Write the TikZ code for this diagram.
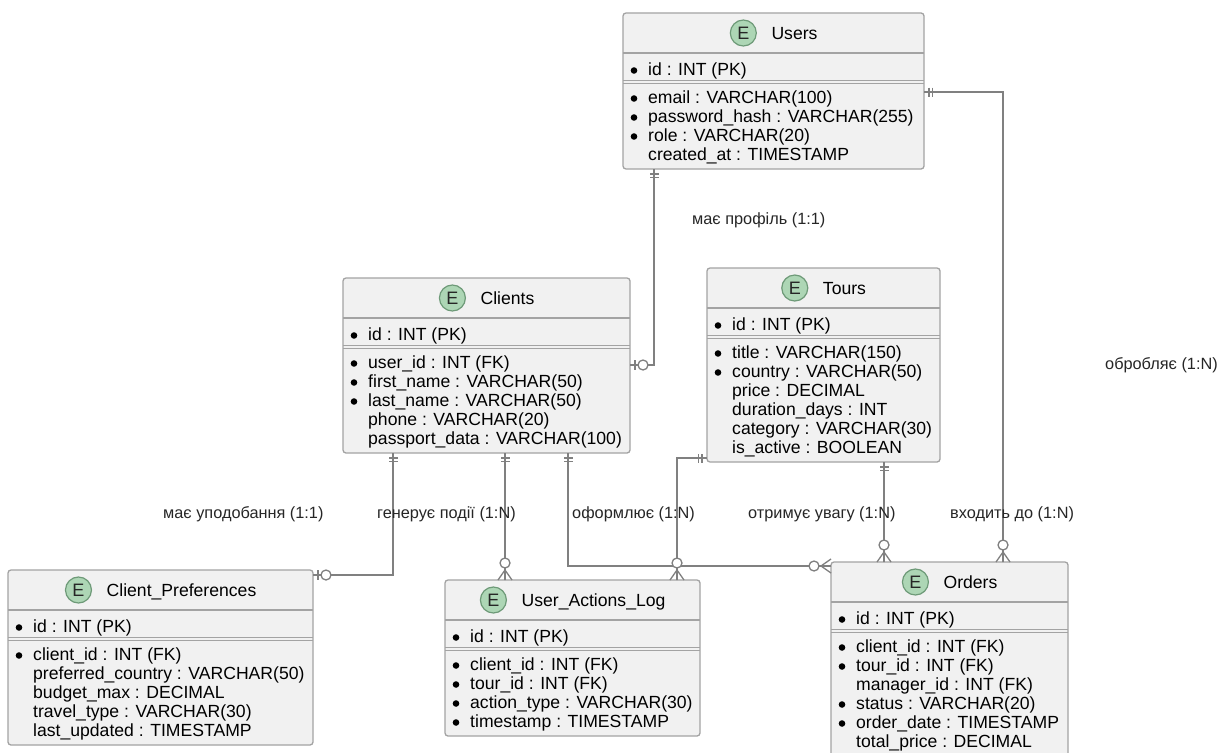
\documentclass[tikz,border=0pt]{standalone}
\usepackage{fontspec}
\setmainfont{Liberation Sans}
\usetikzlibrary{calc}
\definecolor{boxfill}{HTML}{F1F1F1}
\definecolor{boxline}{HTML}{A3A3A3}
\definecolor{connc}{HTML}{808080}
\definecolor{spotfill}{HTML}{ADD6B5}
\definecolor{spotline}{HTML}{6E9A78}
\tikzset{
 ebox/.style={draw=boxline, fill=boxfill, line width=1.3pt, rounded corners=3pt, inner sep=0pt, outer sep=0pt},
 sepline/.style={draw=boxline, line width=1.2pt},
 ttl/.style={inner sep=0pt, text height=12.6pt, text depth=0pt, font=\fontsize{17.6}{19}\selectfont, text=black},
 spot/.style={circle, draw=spotline, fill=spotfill, line width=1.2pt, minimum size=26pt, inner sep=0pt, font=\fontsize{18}{19}\selectfont, text=black!85},
 attr/.style={inner sep=0pt, anchor=base west, font=\fontsize{17.6}{19}\selectfont, text=black},
 lbl/.style={inner sep=0pt, anchor=base west, font=\fontsize{16.3}{18}\selectfont, text=black!85},
 conn/.style={draw=connc, line width=1.3pt},
 pics/onemark/.style={code={\draw[conn] (5,-4.5)--(5,4.5) (8.5,-4.5)--(8.5,4.5);}},
 pics/zeroone/.style={code={\draw[conn] (5,-5)--(5,5); \draw[conn,fill=white] (13,0) circle (5pt);}},
 pics/zeromany/.style={code={\draw[conn] (0,-7)--(10,0)--(0,7) (0,0)--(10,0); \draw[conn,fill=white] (17,0) circle (5pt);}}
}
\newcommand\entbox[6]{%
 \node[ebox, minimum width=#4pt, minimum height=#5pt, anchor=north west] (#1) at (#2,#3) {};
 \draw[sepline] ($(#1.north west)+(0,40)$) -- ($(#1.north east)+(0,40)$);
 \draw[sepline] ($(#1.north west)+(0,67.5)$) -- ($(#1.north east)+(0,67.5)$);
 \draw[sepline] ($(#1.north west)+(0,70.5)$) -- ($(#1.north east)+(0,70.5)$);
 \node[ttl] (#1-t) at ($(#1.north)+(21,20)$) {#6};
 \node[spot] (#1-e) at ($(#1-t.west)+(-28,0)$) {E};
}
\newcommand\battr[3]{%
 \fill[black] ($(#1.north west)+(11,#2+1.5)$) circle (3.3pt);
 \node[attr] (#1-#2) at ($(#1.north west)+(25,#2+6.3)$) {#3};
}
\newcommand\nattr[3]{%
 \node[attr] (#1-#2) at ($(#1.north west)+(25,#2+6.3)$) {#3};
}
\begin{document}
\begin{tikzpicture}[x=1pt,y=-1pt]
\useasboundingbox (0,0) rectangle (1222,752);
\clip (0,0) rectangle (1222,752);
\fill[white] (0,0) rectangle (1222,752);

% Users
\entbox{users}{623}{13}{301}{156}{Users}
\battr{users}{56}{id : INT (PK)}
\battr{users}{84}{email : VARCHAR(100)}
\battr{users}{103}{password\_hash : VARCHAR(255)}
\battr{users}{122}{role : VARCHAR(20)}
\nattr{users}{141}{created\_at : TIMESTAMP}

% Clients
\entbox{clients}{343}{278}{287}{175}{Clients}
\battr{clients}{56}{id : INT (PK)}
\battr{clients}{84}{user\_id : INT (FK)}
\battr{clients}{103}{first\_name : VARCHAR(50)}
\battr{clients}{122}{last\_name : VARCHAR(50)}
\nattr{clients}{141}{phone : VARCHAR(20)}
\nattr{clients}{160}{passport\_data : VARCHAR(100)}

% Tours
\entbox{tours}{707}{268}{233}{194}{Tours}
\battr{tours}{56}{id : INT (PK)}
\battr{tours}{84}{title : VARCHAR(150)}
\battr{tours}{103}{country : VARCHAR(50)}
\nattr{tours}{122}{price : DECIMAL}
\nattr{tours}{141}{duration\_days : INT}
\nattr{tours}{160}{category : VARCHAR(30)}
\nattr{tours}{179}{is\_active : BOOLEAN}

% Client_Preferences
\entbox{cp}{8}{570}{305}{175}{Client\_Preferences}
\battr{cp}{56}{id : INT (PK)}
\battr{cp}{84}{client\_id : INT (FK)}
\nattr{cp}{103}{preferred\_country : VARCHAR(50)}
\nattr{cp}{122}{budget\_max : DECIMAL}
\nattr{cp}{141}{travel\_type : VARCHAR(30)}
\nattr{cp}{160}{last\_updated : TIMESTAMP}

% User_Actions_Log
\entbox{ual}{445}{580}{255}{156}{User\_Actions\_Log}
\battr{ual}{56}{id : INT (PK)}
\battr{ual}{84}{client\_id : INT (FK)}
\battr{ual}{103}{tour\_id : INT (FK)}
\battr{ual}{122}{action\_type : VARCHAR(30)}
\battr{ual}{141}{timestamp : TIMESTAMP}

% Orders
\entbox{orders}{831}{562}{237}{194}{Orders}
\battr{orders}{56}{id : INT (PK)}
\battr{orders}{84}{client\_id : INT (FK)}
\battr{orders}{103}{tour\_id : INT (FK)}
\nattr{orders}{122}{manager\_id : INT (FK)}
\battr{orders}{141}{status : VARCHAR(20)}
\battr{orders}{160}{order\_date : TIMESTAMP}
\nattr{orders}{179}{total\_price : DECIMAL}

% bend coordinates
\coordinate (c1) at (654,365);
\coordinate (c2) at (1003,92);
\coordinate (c3) at (393,575);
\coordinate (c4) at (505,500);
\coordinate (c5) at (568,566);
\coordinate (c6) at (677,458);
\coordinate (c7) at (884,500);

% connectors
\draw[conn] (users.south -| c1) -- (c1) -- (clients.east |- c1);
\draw[conn] (users.east |- c2) -- (c2) -- (orders.north -| c2);
\draw[conn] (clients.south -| c3) -- (c3) -- (cp.east |- c3);
\draw[conn] (clients.south -| c4) -- (ual.north -| c4);
\draw[conn] (clients.south -| c5) -- (c5) -- (orders.west |- c5);
\draw[conn] (tours.west |- c6) -- (c6) -- (ual.north -| c6);
\draw[conn] (tours.south -| c7) -- (orders.north -| c7);

% end marks
\pic[rotate=-90] at (users.south -| c1) {onemark};
\pic[rotate=0] at (clients.east |- c1) {zeroone};
\pic[rotate=0] at (users.east |- c2) {onemark};
\pic[rotate=90] at (orders.north -| c2) {zeromany};
\pic[rotate=-90] at (clients.south -| c3) {onemark};
\pic[rotate=0] at (cp.east |- c3) {zeroone};
\pic[rotate=-90] at (clients.south -| c4) {onemark};
\pic[rotate=90] at (ual.north -| c4) {zeromany};
\pic[rotate=-90] at (clients.south -| c5) {onemark};
\pic[rotate=180] at (orders.west |- c5) {zeromany};
\pic[rotate=180] at (tours.west |- c6) {onemark};
\pic[rotate=90] at (ual.north -| c6) {zeromany};
\pic[rotate=-90] at (tours.south -| c7) {onemark};
\pic[rotate=90] at (orders.north -| c7) {zeromany};

% labels
\node[lbl] (l1) at (692,224) {має профіль (1:1)};
\node[lbl] (l2) at (1105,369) {обробляє (1:N)};
\node[lbl] (l3) at (163,518) {має уподобання (1:1)};
\node[lbl] (l4) at (377,518) {генерує події (1:N)};
\node[lbl] (l5) at (572,518) {оформлює (1:N)};
\node[lbl] (l6) at (748,518) {отримує увагу (1:N)};
\node[lbl] (l7) at (950,518) {входить до (1:N)};
\end{tikzpicture}
\end{document}
